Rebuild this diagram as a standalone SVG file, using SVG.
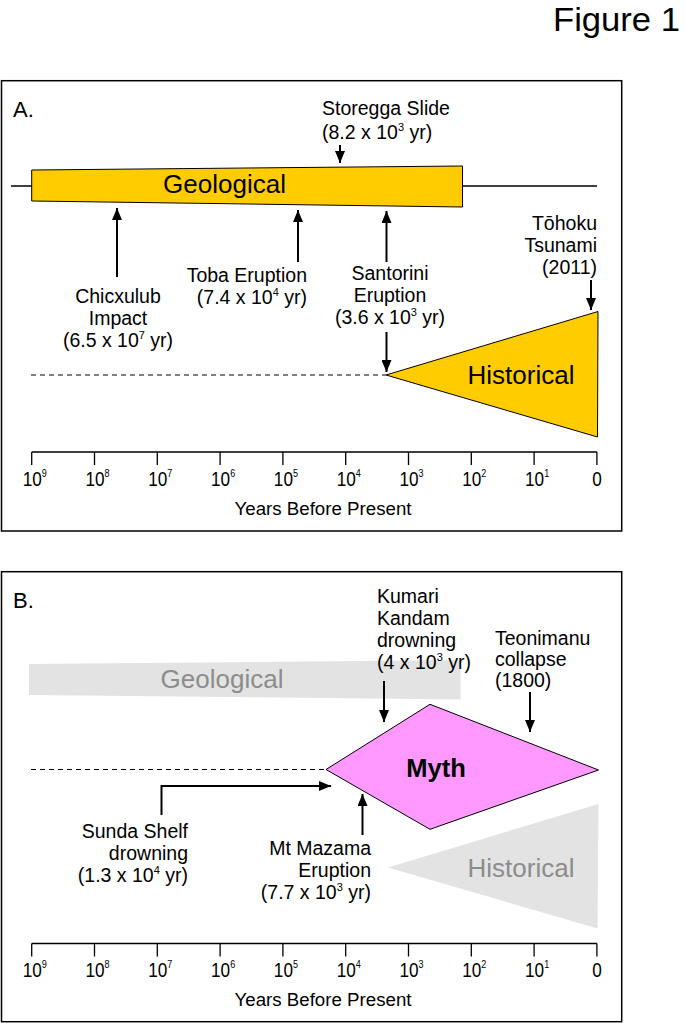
<svg xmlns="http://www.w3.org/2000/svg" width="685" height="1023" viewBox="0 0 685 1023">
<style>
text{font-family:"Liberation Sans",Arial,sans-serif;fill:#000}
.lbl{font-size:19.5px}
.big{font-size:26px}
.tick{font-size:20px;text-anchor:middle}
.sup{font-size:10.5px}
.ybp{font-size:18.7px;text-anchor:middle}
.frame{fill:none;stroke:#000;stroke-width:1.5}
.gold{fill:#FFCC00;stroke:#000;stroke-width:1}
.arr{stroke:#000;stroke-width:2;fill:none;marker-end:url(#ah)}
.dash{stroke:#000;stroke-width:1.2;stroke-dasharray:5 4}
.axis{stroke:#000;stroke-width:1.3;fill:none}
.gray{fill:#E3E3E3}
.graytxt{fill:#8C8C8C}
</style>
<defs>
<marker id="ah" viewBox="0 0 12 10" refX="12" refY="5" markerWidth="12" markerHeight="10" markerUnits="userSpaceOnUse" orient="auto">
<path d="M0,0 L12,5 L0,10 z" fill="#000"/>
</marker>
<g id="axisTicks">
<path class="axis" d="M31.7,0 H596.9 M31.7,0 V13 M94.5,0 V13 M157.3,0 V13 M220.1,0 V13 M282.9,0 V13 M345.7,0 V13 M408.5,0 V13 M471.3,0 V13 M534.1,0 V13 M596.9,0 V13"/>
</g>
</defs>

<text id="title" x="553" y="31" font-size="34" textLength="127" lengthAdjust="spacingAndGlyphs">Figure 1</text>

<g id="panelA">
<rect class="frame" x="1.5" y="80.7" width="620.2" height="450.3"/>
<text x="13" y="117" font-size="22">A.</text>
<line x1="11" y1="186" x2="597" y2="186" stroke="#000" stroke-width="1.5"/>
<g id="A-geological">
<polygon class="gold" points="31.7,170 462.5,166 462.5,207 31.7,201"/>
<text class="big" x="224.5" y="193" text-anchor="middle">Geological</text>
</g>
<line class="dash" x1="31" y1="375" x2="386" y2="375"/>
<g id="A-historical">
<polygon class="gold" points="386,375 598,311.5 597.5,437"/>
<text class="big" x="521" y="384" text-anchor="middle">Historical</text>
</g>
<g id="A-storegga">
<text class="lbl" x="322" y="115">Storegga Slide</text>
<text class="lbl" x="322" y="139">(8.2 x 10<tspan font-size="11" dy="-8">3</tspan><tspan dy="8"> yr)</tspan></text>
</g>
<g id="A-chicxulub" text-anchor="middle">
<text class="lbl" x="118" y="303">Chicxulub</text>
<text class="lbl" x="118" y="325">Impact</text>
<text class="lbl" x="118" y="347">(6.5 x 10<tspan font-size="11" dy="-8">7</tspan><tspan dy="8"> yr)</tspan></text>
</g>
<g id="A-toba" text-anchor="end">
<text class="lbl" x="307" y="282">Toba Eruption</text>
<text class="lbl" x="307" y="304">(7.4 x 10<tspan font-size="11" dy="-8">4</tspan><tspan dy="8"> yr)</tspan></text>
</g>
<g id="A-santorini" text-anchor="middle">
<text class="lbl" x="390" y="280">Santorini</text>
<text class="lbl" x="390" y="302">Eruption</text>
<text class="lbl" x="390" y="324">(3.6 x 10<tspan font-size="11" dy="-8">3</tspan><tspan dy="8"> yr)</tspan></text>
</g>
<g id="A-tohoku" text-anchor="end">
<text class="lbl" x="597" y="230">Tōhoku</text>
<text class="lbl" x="597" y="252">Tsunami</text>
<text class="lbl" x="597" y="274">(2011)</text>
</g>
<g id="A-axis">
<use href="#axisTicks" x="0" y="452"/>
<text class="tick" transform="translate(34.7 486) scale(0.86 1)">10<tspan class="sup" dy="-9">9</tspan></text>
<text class="tick" transform="translate(97.5 486) scale(0.86 1)">10<tspan class="sup" dy="-9">8</tspan></text>
<text class="tick" transform="translate(160.3 486) scale(0.86 1)">10<tspan class="sup" dy="-9">7</tspan></text>
<text class="tick" transform="translate(223.1 486) scale(0.86 1)">10<tspan class="sup" dy="-9">6</tspan></text>
<text class="tick" transform="translate(285.9 486) scale(0.86 1)">10<tspan class="sup" dy="-9">5</tspan></text>
<text class="tick" transform="translate(348.7 486) scale(0.86 1)">10<tspan class="sup" dy="-9">4</tspan></text>
<text class="tick" transform="translate(411.5 486) scale(0.86 1)">10<tspan class="sup" dy="-9">3</tspan></text>
<text class="tick" transform="translate(474.3 486) scale(0.86 1)">10<tspan class="sup" dy="-9">2</tspan></text>
<text class="tick" transform="translate(537.1 486) scale(0.86 1)">10<tspan class="sup" dy="-9">1</tspan></text>
<text class="tick" transform="translate(597 486) scale(0.86 1)">0</text>
<text class="ybp" x="323" y="515">Years Before Present</text>
</g>
</g>

<g id="panelB">
<rect class="frame" x="1.5" y="571.7" width="620.2" height="450"/>
<text x="13" y="607.5" font-size="22">B.</text>
<g id="B-geological">
<polygon class="gray" points="29,664 460.5,660 460.5,699.5 29,695"/>
<text class="big graytxt" x="222" y="688" text-anchor="middle">Geological</text>
</g>
<g id="B-historical">
<polygon class="gray" points="388,867.5 598.5,804 597.5,928.5"/>
<text class="big graytxt" x="521" y="877" text-anchor="middle">Historical</text>
</g>
<line class="dash" x1="31" y1="769.5" x2="326" y2="769.5"/>
<g id="B-myth">
<polygon points="326,769.5 430,704.3 598.5,770 430,829.3" fill="#FF99FF" stroke="#000" stroke-width="1"/>
<text x="436" y="777" font-size="25.5" font-weight="bold" text-anchor="middle">Myth</text>
</g>
<g id="B-kumari">
<text class="lbl" x="377" y="603">Kumari</text>
<text class="lbl" x="377" y="625">Kandam</text>
<text class="lbl" x="377" y="647">drowning</text>
<text class="lbl" x="377" y="669">(4 x 10<tspan font-size="11" dy="-8">3</tspan><tspan dy="8"> yr)</tspan></text>
</g>
<g id="B-teonimanu">
<text class="lbl" x="495" y="645">Teonimanu</text>
<text class="lbl" x="495" y="666">collapse</text>
<text class="lbl" x="495" y="687">(1800)</text>
</g>
<g id="B-sunda" text-anchor="end">
<text class="lbl" x="188" y="838">Sunda Shelf</text>
<text class="lbl" x="188" y="860">drowning</text>
<text class="lbl" x="188" y="882">(1.3 x 10<tspan font-size="11" dy="-8">4</tspan><tspan dy="8"> yr)</tspan></text>
</g>
<g id="B-mazama" text-anchor="end">
<text class="lbl" x="371" y="855">Mt Mazama</text>
<text class="lbl" x="371" y="877">Eruption</text>
<text class="lbl" x="371" y="899">(7.7 x 10<tspan font-size="11" dy="-8">3</tspan><tspan dy="8"> yr)</tspan></text>
</g>
<g id="B-axis">
<use href="#axisTicks" x="0" y="943.5"/>
<text class="tick" transform="translate(34.7 977) scale(0.86 1)">10<tspan class="sup" dy="-9">9</tspan></text>
<text class="tick" transform="translate(97.5 977) scale(0.86 1)">10<tspan class="sup" dy="-9">8</tspan></text>
<text class="tick" transform="translate(160.3 977) scale(0.86 1)">10<tspan class="sup" dy="-9">7</tspan></text>
<text class="tick" transform="translate(223.1 977) scale(0.86 1)">10<tspan class="sup" dy="-9">6</tspan></text>
<text class="tick" transform="translate(285.9 977) scale(0.86 1)">10<tspan class="sup" dy="-9">5</tspan></text>
<text class="tick" transform="translate(348.7 977) scale(0.86 1)">10<tspan class="sup" dy="-9">4</tspan></text>
<text class="tick" transform="translate(411.5 977) scale(0.86 1)">10<tspan class="sup" dy="-9">3</tspan></text>
<text class="tick" transform="translate(474.3 977) scale(0.86 1)">10<tspan class="sup" dy="-9">2</tspan></text>
<text class="tick" transform="translate(537.1 977) scale(0.86 1)">10<tspan class="sup" dy="-9">1</tspan></text>
<text class="tick" transform="translate(597 977) scale(0.86 1)">0</text>
<text class="ybp" x="323" y="1006">Years Before Present</text>
</g>
</g>

<g id="connectors">
<line class="arr" x1="340" y1="145" x2="340" y2="163"/>
<line class="arr" x1="117" y1="277" x2="117" y2="208"/>
<line class="arr" x1="298" y1="262" x2="298" y2="210"/>
<line class="arr" x1="386.5" y1="262" x2="386.5" y2="211"/>
<line class="arr" x1="386.5" y1="332" x2="386.5" y2="372"/>
<line class="arr" x1="591" y1="280" x2="591" y2="310"/>
<line class="arr" x1="384" y1="681" x2="384" y2="722"/>
<line class="arr" x1="530" y1="692" x2="530" y2="732"/>
<path class="arr" d="M161.5,815 V786 H331"/>
<line class="arr" x1="362.5" y1="835" x2="362.5" y2="794"/>
</g>
</svg>
